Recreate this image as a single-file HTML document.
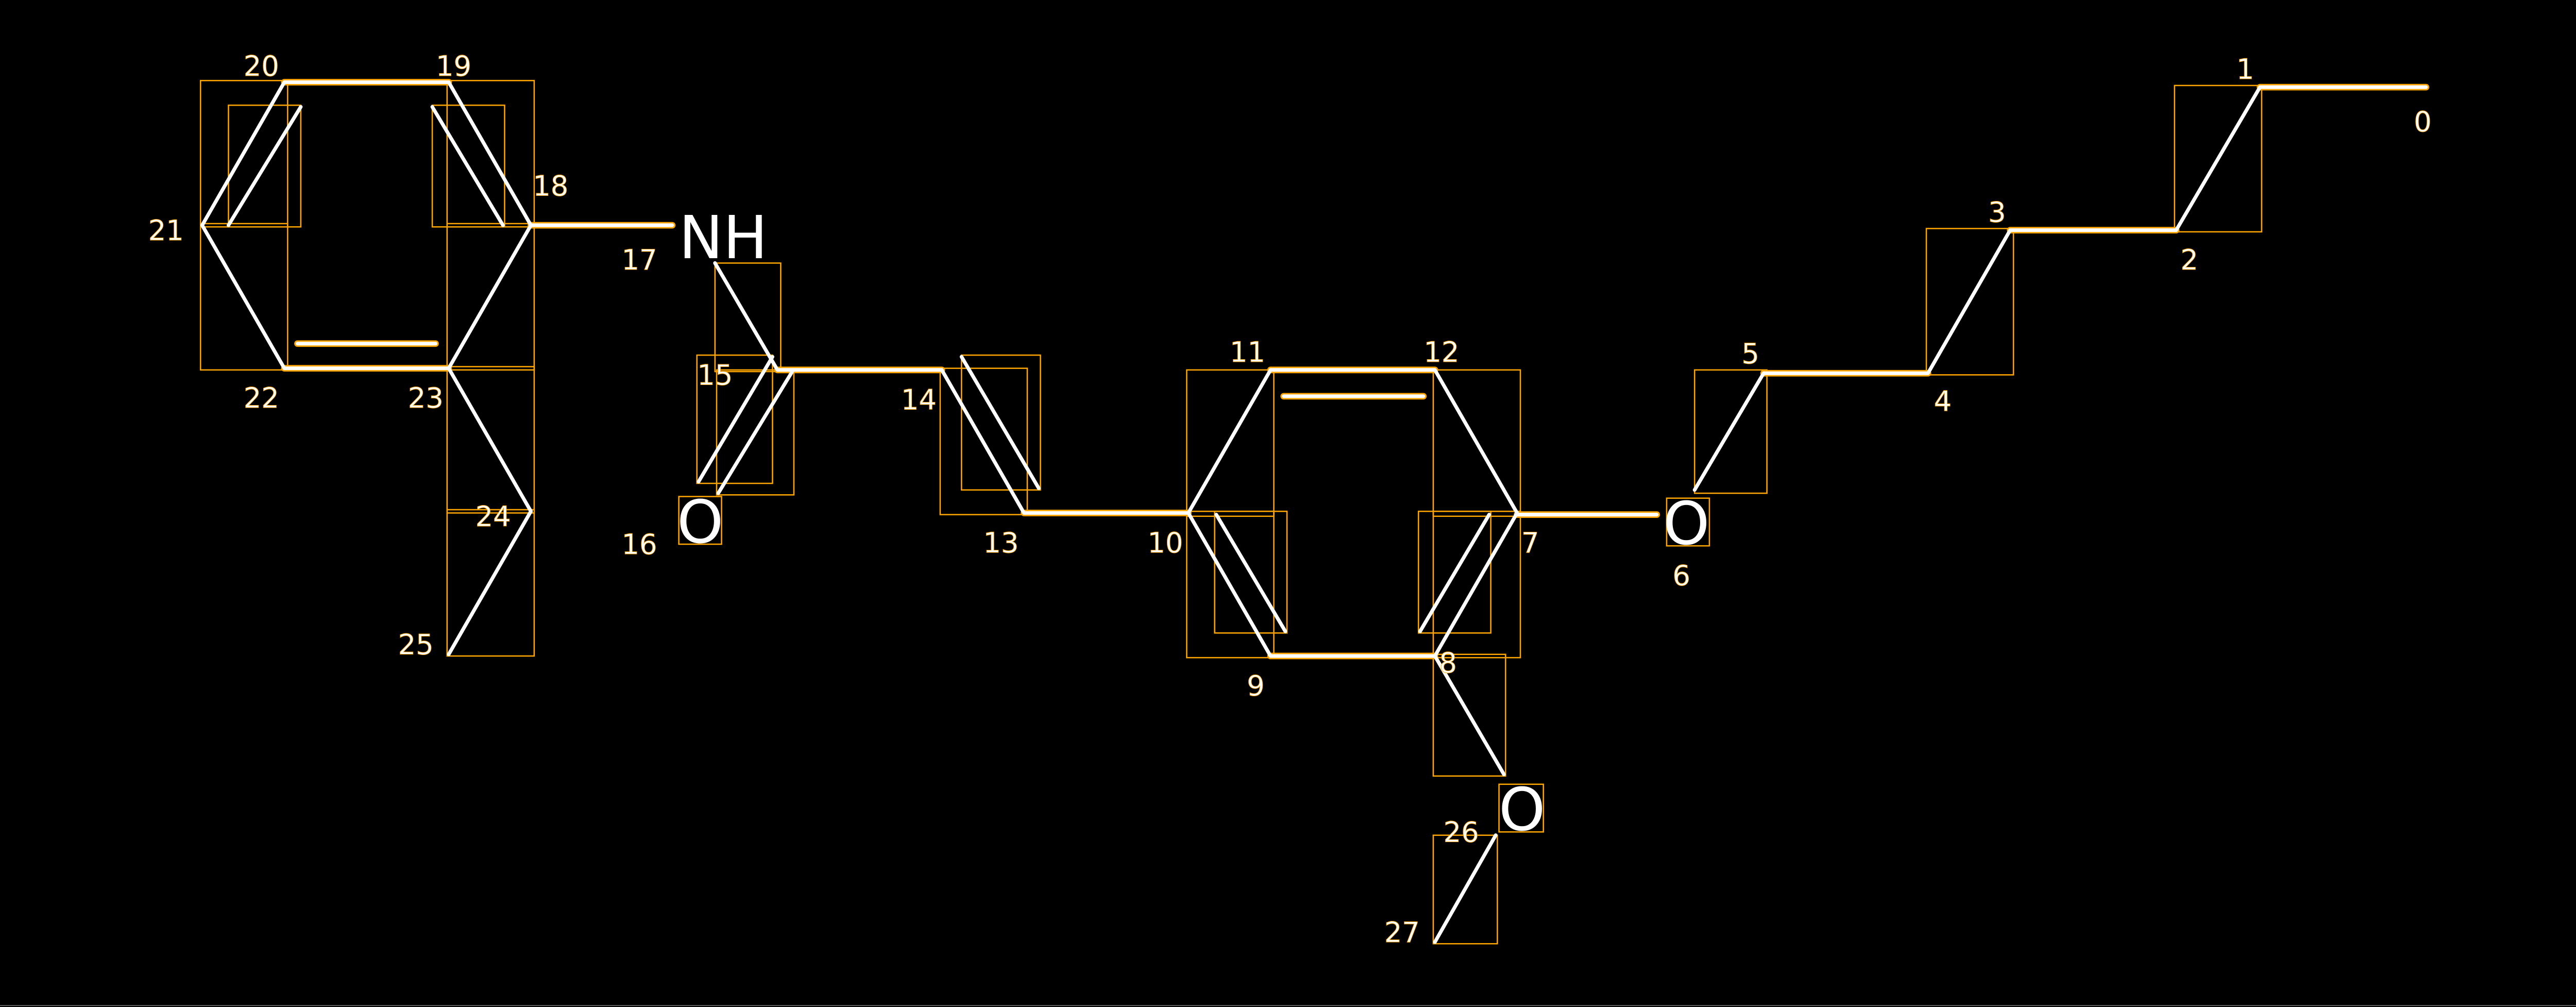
<!DOCTYPE html>
<html><head><style>html,body{margin:0;padding:0;background:#000;}svg{display:block}</style></head>
<body>
<svg width="5063" height="1954" viewBox="0 0 1587 612" preserveAspectRatio="xMinYMin meet" xmlns="http://www.w3.org/2000/svg" font-family="'DejaVu Sans','Liberation Sans',sans-serif">
<rect width="1600" height="620" fill="#000"/>
<line x1="1586.5" y1="0" x2="1586.5" y2="612" stroke="#888" stroke-width="0.4"/>
<line x1="0" y1="611.6" x2="1587" y2="611.6" stroke="#888" stroke-width="0.4"/>
<g fill="none" stroke="#FFA500" stroke-width="0.8">
<rect x="1323" y="52" width="53" height="89"/>
<rect x="1172" y="139" width="53" height="89"/>
<rect x="1031" y="225" width="44" height="75"/>
<rect x="872" y="225" width="53" height="89"/>
<rect x="863" y="311" width="44" height="74"/>
<rect x="872" y="311" width="53" height="89"/>
<rect x="722" y="225" width="53" height="89"/>
<rect x="739" y="311" width="44" height="74"/>
<rect x="722" y="311" width="53" height="89"/>
<rect x="872" y="398" width="44" height="74"/>
<rect x="872" y="508" width="39" height="66"/>
<rect x="572" y="224" width="53" height="89"/>
<rect x="585" y="216" width="48" height="82"/>
<rect x="435" y="160" width="40" height="66"/>
<rect x="424" y="216" width="46" height="78"/>
<rect x="436" y="225" width="47" height="76"/>
<rect x="122" y="49" width="53" height="89"/>
<rect x="139" y="64" width="44" height="74"/>
<rect x="272" y="49" width="53" height="89"/>
<rect x="263" y="64" width="44" height="74"/>
<rect x="122" y="136" width="53" height="89"/>
<rect x="272" y="136" width="53" height="89"/>
<rect x="272" y="223" width="53" height="89"/>
<rect x="272" y="310" width="53" height="89"/>
<rect x="1014" y="303" width="26" height="29"/>
<rect x="413" y="302" width="26" height="29"/>
<rect x="912" y="477" width="27" height="29"/>
</g>
<g stroke="#FFA500" stroke-width="4" stroke-linecap="round">
<line x1="1375" y1="53" x2="1476" y2="53"/>
<line x1="1223" y1="140" x2="1324" y2="140"/>
<line x1="1073" y1="227" x2="1173" y2="227"/>
<line x1="923" y1="313" x2="1008" y2="313"/>
<line x1="773" y1="225" x2="873" y2="225"/>
<line x1="781" y1="241" x2="866" y2="241"/>
<line x1="773" y1="399" x2="873" y2="399"/>
<line x1="623" y1="312" x2="723" y2="312"/>
<line x1="473" y1="225" x2="573" y2="225"/>
<line x1="323" y1="137" x2="409" y2="137"/>
<line x1="173" y1="50" x2="273" y2="50"/>
<line x1="173" y1="224" x2="273" y2="224"/>
<line x1="181" y1="209" x2="265" y2="209"/>
</g>
<g stroke="#fff" stroke-width="2.2" stroke-linecap="round">
<line x1="1375" y1="53" x2="1476" y2="53"/>
<line x1="1375" y1="53" x2="1324" y2="140"/>
<line x1="1223" y1="140" x2="1324" y2="140"/>
<line x1="1223" y1="140" x2="1173" y2="227"/>
<line x1="1073" y1="227" x2="1173" y2="227"/>
<line x1="1073" y1="227" x2="1031" y2="298"/>
<line x1="923" y1="313" x2="1008" y2="313"/>
<line x1="923" y1="312" x2="873" y2="399"/>
<line x1="906" y1="313" x2="864" y2="384"/>
<line x1="773" y1="399" x2="873" y2="399"/>
<line x1="773" y1="399" x2="723" y2="312"/>
<line x1="740" y1="313" x2="782" y2="384"/>
<line x1="723" y1="312" x2="773" y2="225"/>
<line x1="773" y1="225" x2="873" y2="225"/>
<line x1="781" y1="241" x2="866" y2="241"/>
<line x1="873" y1="225" x2="923" y2="312"/>
<line x1="873" y1="399" x2="915" y2="471"/>
<line x1="910" y1="508" x2="873" y2="573"/>
<line x1="623" y1="312" x2="723" y2="312"/>
<line x1="623" y1="312" x2="573" y2="225"/>
<line x1="585" y1="217" x2="632" y2="297"/>
<line x1="473" y1="225" x2="573" y2="225"/>
<line x1="473" y1="225" x2="435" y2="160"/>
<line x1="482" y1="226" x2="437" y2="300"/>
<line x1="470" y1="217" x2="425" y2="293"/>
<line x1="323" y1="137" x2="409" y2="137"/>
<line x1="323" y1="137" x2="273" y2="50"/>
<line x1="306" y1="137" x2="263" y2="65"/>
<line x1="173" y1="50" x2="273" y2="50"/>
<line x1="173" y1="50" x2="123" y2="137"/>
<line x1="183" y1="65" x2="139" y2="137"/>
<line x1="123" y1="137" x2="173" y2="224"/>
<line x1="173" y1="224" x2="273" y2="224"/>
<line x1="181" y1="209" x2="265" y2="209"/>
<line x1="273" y1="224" x2="323" y2="137"/>
<line x1="273" y1="224" x2="323" y2="311"/>
<line x1="323" y1="311" x2="273" y2="398"/>
</g>
<g fill="#fff" font-size="17" stroke="#FFA500" stroke-width="0.3" text-anchor="middle">
<text x="1474" y="80">0</text><text x="1366" y="48">1</text><text x="1332" y="164">2</text>
<text x="1215" y="135">3</text><text x="1182" y="250">4</text><text x="1065" y="221">5</text>
<text x="1023" y="356">6</text><text x="931" y="336">7</text><text x="881" y="409">8</text>
<text x="764" y="423">9</text><text x="709" y="336">10</text><text x="759" y="220">11</text>
<text x="877" y="220">12</text><text x="609" y="336">13</text><text x="559" y="249">14</text>
<text x="435" y="234">15</text><text x="389" y="337">16</text><text x="389" y="164">17</text>
<text x="335" y="119">18</text><text x="276" y="46">19</text><text x="159" y="46">20</text>
<text x="101" y="146">21</text><text x="159" y="248">22</text><text x="259" y="248">23</text>
<text x="300" y="320">24</text><text x="253" y="398">25</text><text x="889" y="512">26</text>
<text x="853" y="573">27</text>
</g>
<g fill="#fff" font-size="36" text-anchor="middle">
<text x="1026" y="331">O</text>
<text x="426" y="330">O</text>
<text x="926" y="505">O</text>
<text x="440" y="157">NH</text>
</g>
</svg>
</body></html>
